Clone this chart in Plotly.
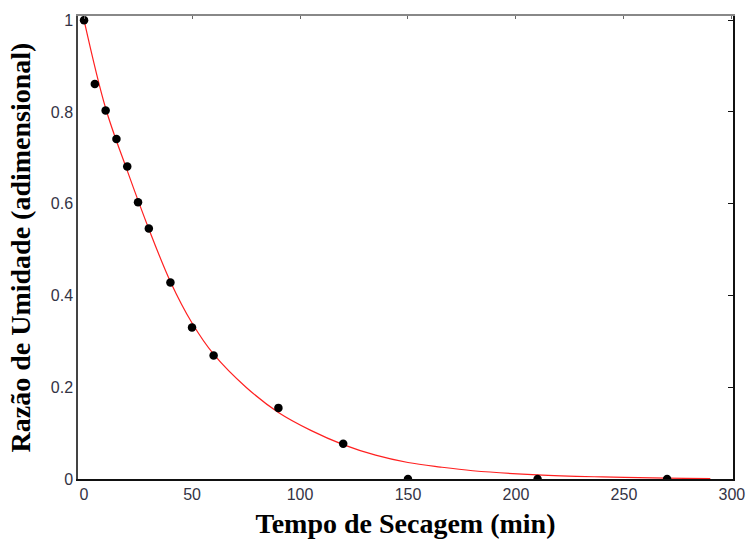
import plotly.graph_objects as go

t_exp = [0, 5, 10, 15, 20, 25, 30, 40, 50, 60, 90, 120, 150, 210, 270]
mr_exp = [1.0, 0.861, 0.803, 0.741, 0.681, 0.603, 0.546, 0.428, 0.330, 0.269, 0.155, 0.077, 0.0, 0.0, 0.0]

# Fitted curve
t_fit = [0, 10, 20, 30, 40, 50, 60, 75, 90, 105, 120, 135, 150, 165, 180, 210, 240, 270, 290]
mr_fit = [1.0, 0.808, 0.672, 0.545, 0.430, 0.340, 0.272, 0.200, 0.145, 0.106, 0.075, 0.052,
          0.036, 0.026, 0.018, 0.009, 0.0045, 0.0017, 0.001]

x_ticks = [0, 50, 100, 150, 200, 250, 300]
y_ticks = [0, 0.2, 0.4, 0.6, 0.8, 1]
y_tick_text = ["0", "0.2", "0.4", "0.6", "0.8", "1"]

XR = [-2.8, 300.5]
YR = [0, 1.009]

fig = go.Figure()
fig.add_trace(go.Scatter(x=t_fit, y=mr_fit, mode="lines", line=dict(color="#ff2020", width=1.2, shape="spline"),
                         showlegend=False, cliponaxis=True))
fig.add_trace(go.Scatter(x=t_exp, y=mr_exp, mode="markers", marker=dict(color="black", size=8.5),
                         showlegend=False, cliponaxis=True))

tickfont = dict(family="Liberation Sans, Arial", size=16, color="#333344")
titlefont = dict(family="Liberation Serif, Times New Roman", size=28, color="black")

fig.update_layout(
    width=748, height=539,
    margin=dict(l=78, r=15, t=16, b=60),
    paper_bgcolor="white", plot_bgcolor="white",
    xaxis=dict(range=XR, tickvals=x_ticks, ticks="", showgrid=False, zeroline=False, automargin=False,
               showline=True, linecolor="#111111", linewidth=1.5, tickfont=tickfont,
               title=dict(text="<b>Tempo de Secagem (min)</b>", font=titlefont, standoff=12)),
    yaxis=dict(range=YR, tickvals=y_ticks, ticktext=y_tick_text, ticks="", showgrid=False, zeroline=False,
               automargin=False,
               showline=True, linecolor="#444444", linewidth=1.5, tickfont=tickfont,
               title=dict(text="<b>Razão de Umidade (adimensional)</b>", font=titlefont, standoff=12)),
    xaxis2=dict(range=XR, overlaying="x", side="top", anchor="y", tickvals=x_ticks, ticks="inside",
                automargin=False,
                ticklen=3, tickcolor="#666666", showticklabels=False, showgrid=False, zeroline=False,
                showline=True, linecolor="#888888", linewidth=2),
    yaxis2=dict(range=YR, overlaying="y", side="right", anchor="x", tickvals=y_ticks, ticks="inside",
                automargin=False,
                ticklen=5, tickcolor="#111111", showticklabels=False, showgrid=False, zeroline=False,
                showline=True, linecolor="#111111", linewidth=1.5),
)
# dummy invisible trace to activate secondary axes
fig.add_trace(go.Scatter(x=[None], y=[None], xaxis="x2", yaxis="y2", showlegend=False, hoverinfo="skip"))

fig.write_html("out.html")
